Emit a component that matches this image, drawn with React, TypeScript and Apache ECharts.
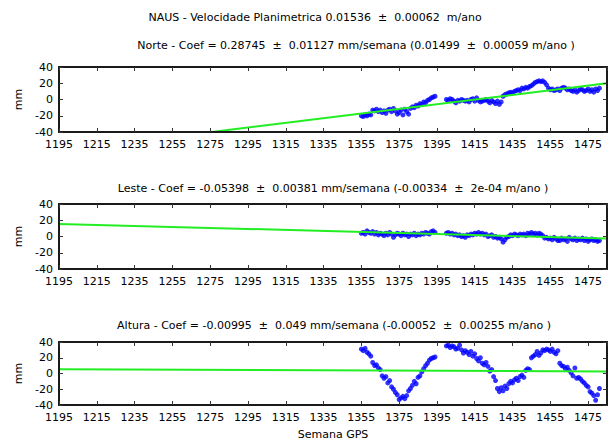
import React, { useEffect, useRef } from "react";
import * as echarts from "echarts";

// Axis settings (GPS weeks)
const WEEK_MIN = 1195;
const WEEK_MAX = 1485;
const WEEK_STEP = 20;
const LAST_LABEL = 1475;
const Y_MIN = -40;
const Y_MAX = 40;
const Y_STEP = 20;

// Data segments: first segment starts at week 1355, second at week 1400
const SEG1_START = 1355;
const SEG2_START = 1400;

const norteSeg1 = [
  -20, -21, -19, -20, -18, -19, -13, -14, -12, -15,
  -13, -16, -14, -17, -13, -12, -15, -11, -14, -18,
  -16, -13, -19, -12, -15, -18, -11, -9, -10, -7,
  -8, -5, -6, -3, -4, -1, 0, 2, 3, 4,
];
const norteSeg2 = [
  0, -1, 1, 0, -2, -4, -1, -2, 0, -1,
  -2, -1, -3, 0, 1, -2, 2, -1, -3, -2,
  -1, 0, -2, -4, -1, -3, -5, -2, -6, -3,
  4, 6, 7, 8, 9, 8, 10, 11, 12, 11,
  14, 13, 15, 14, 16, 17, 19, 21, 22, 23,
  22, 23, 21, 18, 14, 12, 13, 11, 12, 13,
  11, 14, 15, 14, 12, 13, 11, 10, 12, 9,
  11, 13, 12, 10, 11, 13, 10, 12, 9, 13,
  11, 14,
];

const lesteSeg1 = [
  4, 5, 3, 7, 5, 4, 6, 3, 5, 2,
  4, 3, 1, 4, 2, 5, 3, -1, 2, 4,
  3, 1, 4, 2, 3, 0, 3, 2, 4, 1,
  3, 2, 4, 3, 5, 4, 3, 6, 7, 5,
];
const lesteSeg2 = [
  4, 5, 3, 4, 2, 3, 1, 2, 0, 1,
  -1, 2, 1, 3, 2, 4, 3, 5, 3, 4,
  2, 3, 0, 1, 2, -1, 0, -2, -1, -3,
  -7, -4, -1, 0, 2, 1, 3, 2, 1, 3,
  2, 3, 1, 4, 3, 5, 3, 4, 2, 4,
  3, 1, -2, -1, -3, -2, -4, -1, -3, -5,
  -5, -2, -4, -3, -6, -1, -3, -4, -2, -5,
  -3, -4, -2, -5, -3, -6, -4, -3, -5, -4,
  -6, -5,
];

const alturaSeg1 = [
  31, 29, 32, 27, 25, 22, 14, 10, 11, 7,
  5, -3, -6, -4, -12, -9, -17, -20, -24, -27,
  -33, -31, -29, -32, -28, -22, -19, -15, -10, -13,
  -5, -3, 2, 6, 10, 13, 17, 19, 20, 21,
];
const alturaSeg2 = [
  35, 36, 33, 35, 34, 31, 32, 36, 30, 26,
  29, 27, 24, 28, 22, 25, 19, 16, 20, 13,
  11, 14, 9, 3, 5, -4, -9, -19, -23, -18,
  -22, -16, -19, -13, -10, -12, -8, -6, -9, -4,
  -2, -5, 4, 6, 5, 20, 22, 24, 28, 23,
  26, 30, 29, 31, 30, 28, 31, 27, 25, 29,
  13, 10, 9, 6, 8, 4, 1, -3, 7, -6,
  -5, -7, -10, -12, -15, -17, -23, -25, -28, -34,
  -27, -19,
];

// Fitted trend lines: [week, mm] endpoints
const norteTrend = [[1195, -63.2], [1485, 20.1]];
const lesteTrend = [[1195, 15.5], [1485, -2.5]];
const alturaTrend = [[1195, 5.5], [1485, 2.6]];

const mainTitle = "NAUS - Velocidade Planimetrica 0.01536  ±  0.00062  m/ano";
const panelTitles = [
  "Norte - Coef = 0.28745  ±  0.01127 mm/semana (0.01499  ±  0.00059 m/ano )",
  "Leste - Coef = -0.05398  ±  0.00381 mm/semana (-0.00334  ±  2e-04 m/ano )",
  "Altura - Coef = -0.00995  ±  0.049 mm/semana (-0.00052  ±  0.00255 m/ano )",
];
const yName = "mm";
const xName = "Semana GPS";

const FONT = "'DejaVu Sans', Verdana, sans-serif";

function toPoints(seg1: number[], seg2: number[]) {
  const a = seg1.map((v, i) => [SEG1_START + i - WEEK_MIN, v]);
  const b = seg2.map((v, i) => [SEG2_START + i - WEEK_MIN, v]);
  return [...a, ...b];
}

export default function App() {
  const ref = useRef<HTMLDivElement>(null);
  useEffect(() => {
    if (!ref.current) return;
    const chart = echarts.init(ref.current, undefined, { renderer: "svg" });
    const tops = [67, 204, 342];
    const H = 65;
    const series: any[] = [];
    const xAxis: any[] = [];
    const yAxis: any[] = [];
    const grid: any[] = [];
    const pts = [
      toPoints(norteSeg1, norteSeg2),
      toPoints(lesteSeg1, lesteSeg2),
      toPoints(alturaSeg1, alturaSeg2),
    ];
    const trends = [norteTrend, lesteTrend, alturaTrend];
    const lineColor = "#1a1a1a";
    const tickStyle = { color: "#333", width: 1 };
    const labelStyle = { color: "#000", fontSize: 11, fontFamily: FONT };
    tops.forEach((top, i) => {
      grid.push({ left: 59, right: 5, top, height: H, containLabel: false });
      const common = {
        type: "value",
        gridIndex: i,
        z: 5,
        min: 0,
        max: WEEK_MAX - WEEK_MIN,
        interval: WEEK_STEP,
        splitLine: { show: false },
        axisLine: { show: true, onZero: false, lineStyle: { color: lineColor, width: 2 } },
        axisTick: { show: true, inside: true, length: 4, lineStyle: tickStyle },
      };
      xAxis.push({
        ...common,
        position: "bottom",
        axisLabel: {
          ...labelStyle,
          margin: 7,
          showMaxLabel: false,
          formatter: (v: number) => (v + WEEK_MIN > LAST_LABEL ? "" : String(v + WEEK_MIN)),
        },
        ...(i === 2
          ? {
              name: xName,
              nameLocation: "middle",
              nameGap: 24,
              nameTextStyle: { ...labelStyle },
            }
          : {}),
      });
      xAxis.push({ ...common, position: "top", axisLabel: { show: false } });
      const ycommon = {
        type: "value",
        gridIndex: i,
        z: 5,
        min: Y_MIN,
        max: Y_MAX,
        interval: Y_STEP,
        splitLine: { show: false },
        axisLine: { show: true, onZero: false, lineStyle: { color: lineColor, width: 2 } },
        axisTick: { show: true, inside: true, length: 4, lineStyle: tickStyle },
      };
      yAxis.push({
        ...ycommon,
        position: "left",
        axisLabel: { ...labelStyle, margin: 6 },
        name: yName,
        nameLocation: "middle",
        nameGap: 35,
        nameTextStyle: { ...labelStyle },
      });
      yAxis.push({ ...ycommon, position: "right", axisLabel: { show: false } });
      series.push({
        type: "scatter",
        xAxisIndex: 2 * i,
        yAxisIndex: 2 * i,
        data: pts[i],
        symbol: "circle",
        symbolSize: 5,
        itemStyle: { color: "#0000ff" },
        z: 2,
      });
      series.push({
        type: "line",
        xAxisIndex: 2 * i,
        yAxisIndex: 2 * i,
        data: trends[i].map(([w, v]) => [w - WEEK_MIN, v]),
        showSymbol: false,
        symbol: "none",
        clip: true,
        lineStyle: { color: "#22ee22", width: 2 },
        z: 3,
      });
    });

    const titleStyle = { fill: "#000", font: `11px ${FONT}`, align: "center", verticalAlign: "middle" };
    const graphic = [
      { type: "text", x: 315, y: 17, style: { ...titleStyle, text: mainTitle } },
      { type: "text", x: 356, y: 45, style: { ...titleStyle, text: panelTitles[0] } },
      { type: "text", x: 333, y: 188, style: { ...titleStyle, text: panelTitles[1] } },
      { type: "text", x: 334, y: 325, style: { ...titleStyle, text: panelTitles[2] } },
    ];

    chart.setOption({
      animation: false,
      backgroundColor: "#fff",
      grid,
      xAxis,
      yAxis,
      series,
      graphic,
    });
    return () => chart.dispose();
  }, []);
  return <div ref={ref} style={{ width: 612, height: 441, position: "absolute", left: 0, top: 0 }} />;
}
